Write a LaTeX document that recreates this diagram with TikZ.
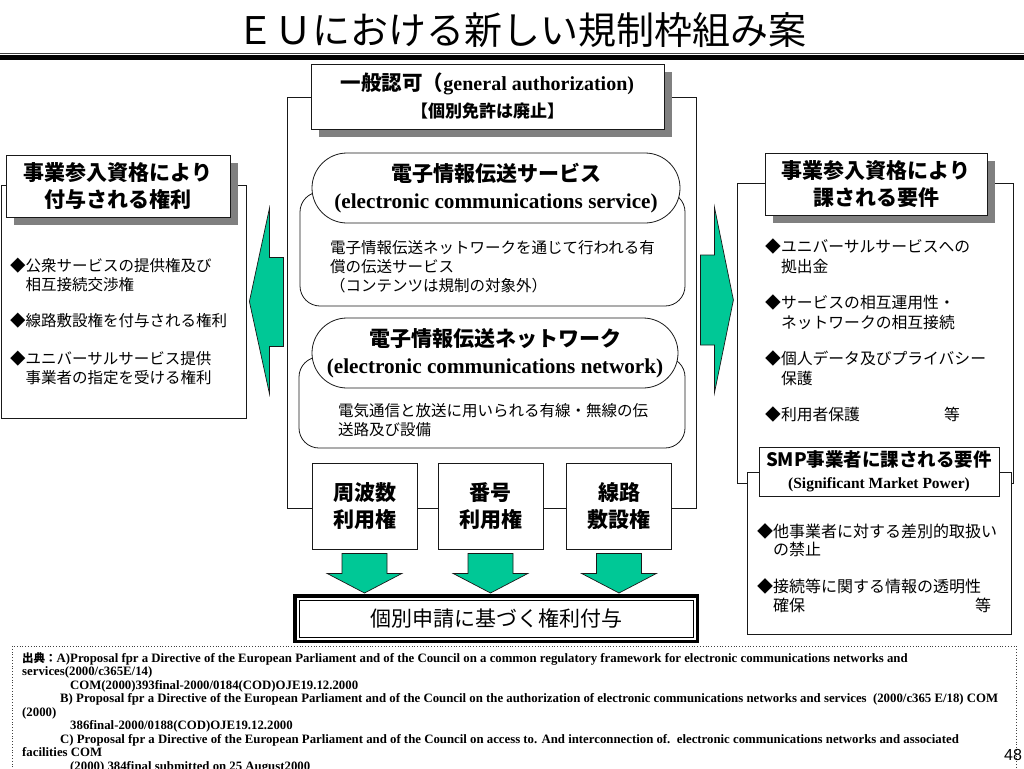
\documentclass[tikz,border=0pt]{standalone}
\usepackage{fontspec}
\setmainfont{Liberation Serif}
\newfontfamily\jp{Noto Sans CJK JP}
\newfontfamily\sans{Liberation Sans}
\usetikzlibrary{positioning,calc,shadows}
\definecolor{ink}{gray}{0.10}
\definecolor{rule}{gray}{0.25}
\definecolor{shade}{gray}{0.50}
\definecolor{emerald}{RGB}{0,200,150}
\newcommand\fs[2]{\fontsize{#1}{#2}\selectfont}
\tikzset{
  panel/.style={draw=ink, line width=0.8pt, fill=white, inner sep=0pt},
  hdr/.style={draw=ink, line width=0.8pt, fill=white, align=center, inner sep=0pt,
              font=\jp\bfseries\fs{21}{27},
              drop shadow={shadow xshift=8pt, shadow yshift=-8pt, fill=shade, opacity=1}},
  pill/.style={draw=ink, line width=0.8pt, fill=white, align=center, inner sep=0pt,
               rounded corners=35pt, minimum height=70, font=\bfseries\fs{21.2}{27}},
  slot/.style={draw=ink, line width=0.8pt, fill=white, align=center, inner sep=0pt,
               minimum width=105, minimum height=86, font=\jp\bfseries\fs{21}{27}},
  pt/.style={anchor=west, align=left, inner sep=0pt, font=\jp\fs{15.5}{19}},
  garrow/.style={draw=ink, line width=0.7pt, fill=emerald, line join=miter},
}

\begin{document}
\begin{tikzpicture}[x=1pt, y=-1pt]
  \useasboundingbox (0,0) rectangle (1024,768);
  % title and rule
  \node[font=\jp\fs{38}{44}] (title) at (521,30) {ＥＵにおける新しい規制枠組み案};
  \draw[rule, line width=1pt] (0,53.5) -- (1024,53.5);
  \draw[shade, line width=1.5pt] (0,55.3) -- (1024,55.3);
  \draw[black, line width=3pt] (0,58) -- (1024,58);

  % frames
  \node[panel, minimum width=409, minimum height=411] (core) at (491.5,302.5) {};
  \node[panel, minimum width=245, minimum height=233] (lframe) at (123.5,301.5) {};
  \node[panel, minimum width=276, minimum height=300] (rframe) at (875,333) {};
  \node[panel, minimum width=264, minimum height=162] (smpframe) at (879,553) {};

  % general authorization
  \node[hdr, minimum width=353, minimum height=65, font=\bfseries\fs{20}{27}] (auth) at (487.5,96.5)
    {{\jp\fontsize{20.5}{27}\selectfont 一般認可（}general authorization)\\
     {\jp\fontsize{17}{27}\selectfont 【個別免許は廃止】}};

  % service and network
  \node[panel, rounded corners=20pt, minimum width=385, minimum height=114] (svcbody) at (492.5,249) {};
  \node[pill, minimum width=368] (svc) at (496,188)
    {{\jp\fontsize{21}{27}\selectfont 電子情報伝送サービス}\\(electronic communications service)};
  \node[pt] (svctext) at (330,267) {電子情報伝送ネットワークを通じて行われる有\\償の伝送サービス\\（コンテンツは規制の対象外）};

  \node[panel, rounded corners=20pt, minimum width=386, minimum height=91] (netbody) at (492,402.5) {};
  \node[pill, minimum width=366] (net) at (495,353)
    {{\jp\fontsize{21}{27}\selectfont 電子情報伝送ネットワーク}\\(electronic communications network)};
  \node[pt] (nettext) at (338,420.5) {電気通信と放送に用いられる有線・無線の伝\\送路及び設備};

  % rights of use
  \node[slot] (freq) at (364.5,506) {周波数\\利用権};
  \node[slot] (numb) at (490.5,506) {番号\\利用権};
  \node[slot] (line) at (619,506) {線路\\敷設権};

  \node[draw=black, line width=3.5pt, fill=white, inner sep=0pt, minimum width=402.5, minimum height=45.5,
        font=\jp\fs{21}{25}] (grant) at (496,618.5) {個別申請に基づく権利付与};
  \draw[black, line width=1pt] ([shift={(6,6)}]grant.north west) rectangle ([shift={(-6,-6)}]grant.south east);

  \foreach \b in {freq,numb,line}{
    \draw[garrow] ($(\b.south)+(-22.5,4)$) -- ++(45,0) -- ++(0,20) -- ++(15,0)
      -- ($(\b.south |- grant.north)+(0,-1)$) -- ($(\b.south)+(-37.5,24)$) -- ++(15,0) -- cycle;
  }

  % left: rights
  \node[hdr, minimum width=224, minimum height=62] (lhead) at (118,186) {事業参入資格により\\付与される権利};
  \node[pt] (lp1) at (10,275) {◆公衆サービスの提供権及び\\\hspace*{1em}相互接続交渉権};
  \node[pt] (lp2) at (10,321) {◆線路敷設権を付与される権利};
  \node[pt] (lp3) at (10,367.5) {◆ユニバーサルサービス提供\\\hspace*{1em}事業者の指定を受ける権利};
  \draw[garrow] ($(lframe.east)+(3,0)$) -- ++(20,-93) -- ++(0,49) -- ++(14,0) -- ++(0,89)
    -- ++(-14,0) -- ++(0,47) -- cycle;

  % right: requirements
  \node[hdr, minimum width=222, minimum height=62] (rhead) at (876,184) {事業参入資格により\\課される要件};
  \node[pt, font=\jp\fs{15.8}{20}] (rp1) at (765,256) {◆ユニバーサルサービスへの\\\hspace*{1em}拠出金};
  \node[pt, font=\jp\fs{15.8}{20}] (rp2) at (765,312) {◆サービスの相互運用性・\\\hspace*{1em}ネットワークの相互接続};
  \node[pt, font=\jp\fs{15.8}{20}] (rp3) at (765,368) {◆個人データ及びプライバシー\\\hspace*{1em}保護};
  \node[pt, font=\jp\fs{15.8}{20}] (rp4) at (765,414) {\makebox[179pt][l]{◆利用者保護}等};
  \draw[garrow] ($(core.east)+(4,-47.5)$) -- ++(14,0) -- ++(0,-48) -- ++(19,93) -- ++(-19,93)
    -- ++(0,-48) -- ++(-14,0) -- cycle;

  % SMP
  \node[draw=ink, line width=0.8pt, fill=white, align=center, inner sep=0pt, minimum width=240, minimum height=49,
        font=\bfseries\fs{15.5}{22}] (smphead) at (879,471.5)
    {{\jp\fontsize{18.5}{22}\selectfont SMP事業者に課される要件}\\(Significant Market Power)};
  \node[pt, font=\jp\fs{16}{18.5}] (sp1) at (757,540) {◆他事業者に対する差別的取扱い\\\hspace*{1em}の禁止};
  \node[pt, font=\jp\fs{16}{18.5}] (sp2) at (757,595.5) {◆接続等に関する情報の透明性\\\hspace*{1em}\makebox[202pt][l]{確保}等};

  % sources
  \draw[rule, dotted, line width=0.8pt] (12,770) -- (12,646) -- (1016,646) -- (1016,770);
  \node[anchor=north west, align=left, inner sep=0pt, font=\bfseries\fs{12.8}{13.5}] (refs) at (22,652)
    {{\jp\fontsize{11.5}{13.5}\selectfont 出典：}A)Proposal fpr a Directive of the European Parliament and of the Council on a common regulatory framework for electronic communications networks and\\
     services(2000/c365E/14)\\
     \hspace*{48pt}COM(2000)393final-2000/0184(COD)OJE19.12.2000\\
     \hspace*{38pt}B) Proposal fpr a Directive of the European Parliament and of the Council on the authorization of electronic communications networks and services\ \ (2000/c365 E/18) COM\\
     (2000)\\
     \hspace*{48pt}386final-2000/0188(COD)OJE19.12.2000\\
     \hspace*{38pt}C) Proposal fpr a Directive of the European Parliament and of the Council on access to. And interconnection of.\ \ electronic communications networks and associated\\
     facilities COM\\
     \hspace*{48pt}(2000) 384final submitted on 25 August2000};
  \node[font=\sans\fs{16}{18}] (pgno) at (1013,755) {48};
\end{tikzpicture}
\end{document}
